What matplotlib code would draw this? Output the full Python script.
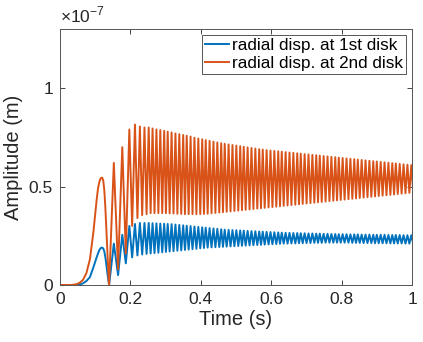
import matplotlib

matplotlib.use("Agg")
import matplotlib.pyplot as plt
import numpy as np
from matplotlib.ticker import FuncFormatter

plt.rcParams["font.family"] = ["Liberation Sans", "DejaVu Sans"]
plt.rcParams["mathtext.fontset"] = "custom"
plt.rcParams["mathtext.rm"] = "Liberation Sans"

# onset of the response (time in s, amplitude in units of 1e-7 m)
onset_t = [0.0, 0.03, 0.045, 0.055, 0.065, 0.075, 0.085, 0.095, 0.104, 0.108,
           0.112, 0.116, 0.120, 0.123, 0.126, 0.129, 0.132, 0.135, 0.1385, 0.1395]
onset_disk2 = [0.0, 0.0, 0.003, 0.01, 0.025, 0.06, 0.13, 0.27, 0.43, 0.49,
               0.525, 0.543, 0.545, 0.53, 0.48, 0.39, 0.27, 0.14, 0.02, 0.0]
onset_disk1 = [0.0, 0.0, 0.0, 0.002, 0.008, 0.02, 0.04, 0.09, 0.14, 0.16,
               0.178, 0.188, 0.19, 0.185, 0.17, 0.14, 0.10, 0.055, 0.01, 0.0]

# times of the oscillation peaks after the onset
peak_t = [0.153, 0.177, 0.197, 0.213, 0.227, 0.240, 0.252, 0.263, 0.274,
          0.285, 0.296, 0.306, 0.317, 0.328, 0.339, 0.350, 0.360, 0.371, 0.382,
          0.393, 0.404, 0.414, 0.425, 0.436, 0.447, 0.458, 0.468, 0.479, 0.490,
          0.501, 0.512, 0.522, 0.533, 0.544, 0.555, 0.566, 0.576, 0.587, 0.598,
          0.609, 0.620, 0.630, 0.641, 0.652, 0.663, 0.674, 0.684, 0.695, 0.706,
          0.717, 0.728, 0.738, 0.749, 0.760, 0.771, 0.782, 0.792, 0.803, 0.814,
          0.825, 0.836, 0.846, 0.857, 0.868, 0.879, 0.890, 0.900, 0.911, 0.922,
          0.933, 0.944, 0.954, 0.965, 0.976, 0.987, 0.998]

# 2nd disk: peak and following trough of each cycle
disk2_peaks = [0.62, 0.70, 0.79, 0.815, 0.805, 0.80, 0.80, 0.795, 0.79,
               0.787, 0.783, 0.779, 0.775, 0.770, 0.766, 0.762, 0.758, 0.754, 0.748,
               0.744, 0.740, 0.736, 0.732, 0.728, 0.724, 0.720, 0.717, 0.714, 0.711,
               0.708, 0.705, 0.702, 0.699, 0.696, 0.693, 0.690, 0.688, 0.685, 0.683,
               0.681, 0.679, 0.677, 0.675, 0.673, 0.671, 0.669, 0.667, 0.665, 0.663,
               0.661, 0.659, 0.657, 0.655, 0.653, 0.651, 0.649, 0.647, 0.645, 0.643,
               0.641, 0.639, 0.637, 0.635, 0.633, 0.631, 0.629, 0.627, 0.625, 0.623,
               0.621, 0.619, 0.617, 0.615, 0.613, 0.611, 0.609]
disk2_troughs = [0.08, 0.16, 0.30, 0.34, 0.355, 0.36, 0.365, 0.365, 0.365,
                 0.365, 0.365, 0.364, 0.363, 0.362, 0.361, 0.360, 0.360, 0.360, 0.360,
                 0.360, 0.361, 0.362, 0.364, 0.366, 0.368, 0.370, 0.372, 0.374, 0.376,
                 0.378, 0.380, 0.382, 0.384, 0.386, 0.388, 0.390, 0.392, 0.394, 0.396,
                 0.398, 0.400, 0.402, 0.404, 0.406, 0.408, 0.410, 0.412, 0.414, 0.416,
                 0.418, 0.420, 0.422, 0.424, 0.426, 0.428, 0.430, 0.432, 0.434, 0.436,
                 0.438, 0.440, 0.442, 0.444, 0.446, 0.448, 0.450, 0.452, 0.454, 0.456,
                 0.458, 0.460, 0.462, 0.464, 0.466, 0.468, 0.470]

# 1st disk: peak and following trough of each cycle
disk1_peaks = [0.21, 0.255, 0.30, 0.31, 0.315, 0.315, 0.315, 0.314, 0.313,
               0.312, 0.311, 0.310, 0.309, 0.307, 0.305, 0.303, 0.301, 0.299, 0.297,
               0.295, 0.293, 0.291, 0.289, 0.287, 0.285, 0.283, 0.281, 0.280, 0.279,
               0.278, 0.277, 0.276, 0.275, 0.274, 0.273, 0.272, 0.271, 0.270, 0.269,
               0.268, 0.267, 0.266, 0.265, 0.265, 0.264, 0.264, 0.263, 0.263, 0.262,
               0.262, 0.261, 0.261, 0.260, 0.260, 0.259, 0.259, 0.258, 0.258, 0.258,
               0.257, 0.257, 0.257, 0.256, 0.256, 0.256, 0.255, 0.255, 0.255, 0.255,
               0.254, 0.254, 0.254, 0.254, 0.253, 0.253, 0.253]
disk1_troughs = [0.05, 0.11, 0.14, 0.15, 0.155, 0.158, 0.16, 0.162, 0.164,
                 0.166, 0.168, 0.170, 0.172, 0.174, 0.176, 0.178, 0.180, 0.182, 0.184,
                 0.186, 0.188, 0.190, 0.191, 0.192, 0.193, 0.194, 0.195, 0.196, 0.197,
                 0.198, 0.199, 0.200, 0.201, 0.202, 0.203, 0.204, 0.205, 0.206, 0.207,
                 0.208, 0.209, 0.210, 0.210, 0.211, 0.211, 0.212, 0.212, 0.213, 0.213,
                 0.214, 0.214, 0.214, 0.215, 0.215, 0.215, 0.215, 0.215, 0.215, 0.215,
                 0.214, 0.214, 0.214, 0.213, 0.213, 0.213, 0.212, 0.212, 0.212, 0.212,
                 0.211, 0.211, 0.211, 0.211, 0.210, 0.210, 0.210]

x_ticks = [0, 0.2, 0.4, 0.6, 0.8, 1]
y_ticks = [0, 0.5, 1]
scale = 1e-7

labels = ["radial disp. at 1st disk", "radial disp. at 2nd disk"]
colors = ["#0072BD", "#D95319"]
axis_color = "#262626"


def build_series(onset_vals, peaks, troughs):
    """join the onset with the peak/trough sequence"""
    pt = np.array(peak_t)
    trough_t = np.append((pt[:-1] + pt[1:]) / 2, pt[-1] + (pt[-1] - pt[-2]) / 2)
    t = list(onset_t)
    y = list(onset_vals)
    for tp, p, tt, tr in zip(pt, peaks, trough_t, troughs):
        t += [tp, tt]
        y += [p, tr]
    return np.array(t), np.array(y) * scale


fig = plt.figure(figsize=(4.23, 3.42), dpi=100)
ax = fig.add_axes([0.1418, 0.1667, 0.8322, 0.7483])

t1, y1 = build_series(onset_disk1, disk1_peaks, disk1_troughs)
t2, y2 = build_series(onset_disk2, disk2_peaks, disk2_troughs)
ax.plot(t1, y1, color=colors[0], lw=1.4, label=labels[0])
ax.plot(t2, y2, color=colors[1], lw=1.4, label=labels[1])

ax.set_xlim(0, 1)
ax.set_ylim(0, 1.3 * scale)
ax.set_xticks(x_ticks)
ax.set_yticks([v * scale for v in y_ticks])
ax.xaxis.set_major_formatter(FuncFormatter(lambda v, _: f"{v:g}"))
ax.yaxis.set_major_formatter(FuncFormatter(lambda v, _: f"{round(v / scale, 3):g}"))

ax.tick_params(direction="in", length=3.5, width=0.6, color=axis_color,
               labelsize=12.5, labelcolor=axis_color, top=True, right=True, pad=5)
for s in ax.spines.values():
    s.set_color("#555555")
    s.set_linewidth(0.7)

ax.set_xlabel("Time (s)", fontsize=14.5, color=axis_color, labelpad=2)
ax.set_ylabel("Amplitude (m)", fontsize=14.5, color=axis_color, labelpad=4)
ax.text(0.0, 1.015, r"$\times$10$^{-7}$", transform=ax.transAxes, fontsize=12.5,
        color=axis_color, ha="left", va="bottom")

leg = ax.legend(loc="upper right", fontsize=12.3, frameon=True, fancybox=False,
                framealpha=1, edgecolor="#555555", borderpad=0.2, labelspacing=0.15,
                handlelength=1.4, handletextpad=0.15, borderaxespad=0.35)
leg.get_frame().set_linewidth(0.7)
for txt in leg.get_texts():
    txt.set_color("black")

fig.savefig("out.png", dpi=100)
